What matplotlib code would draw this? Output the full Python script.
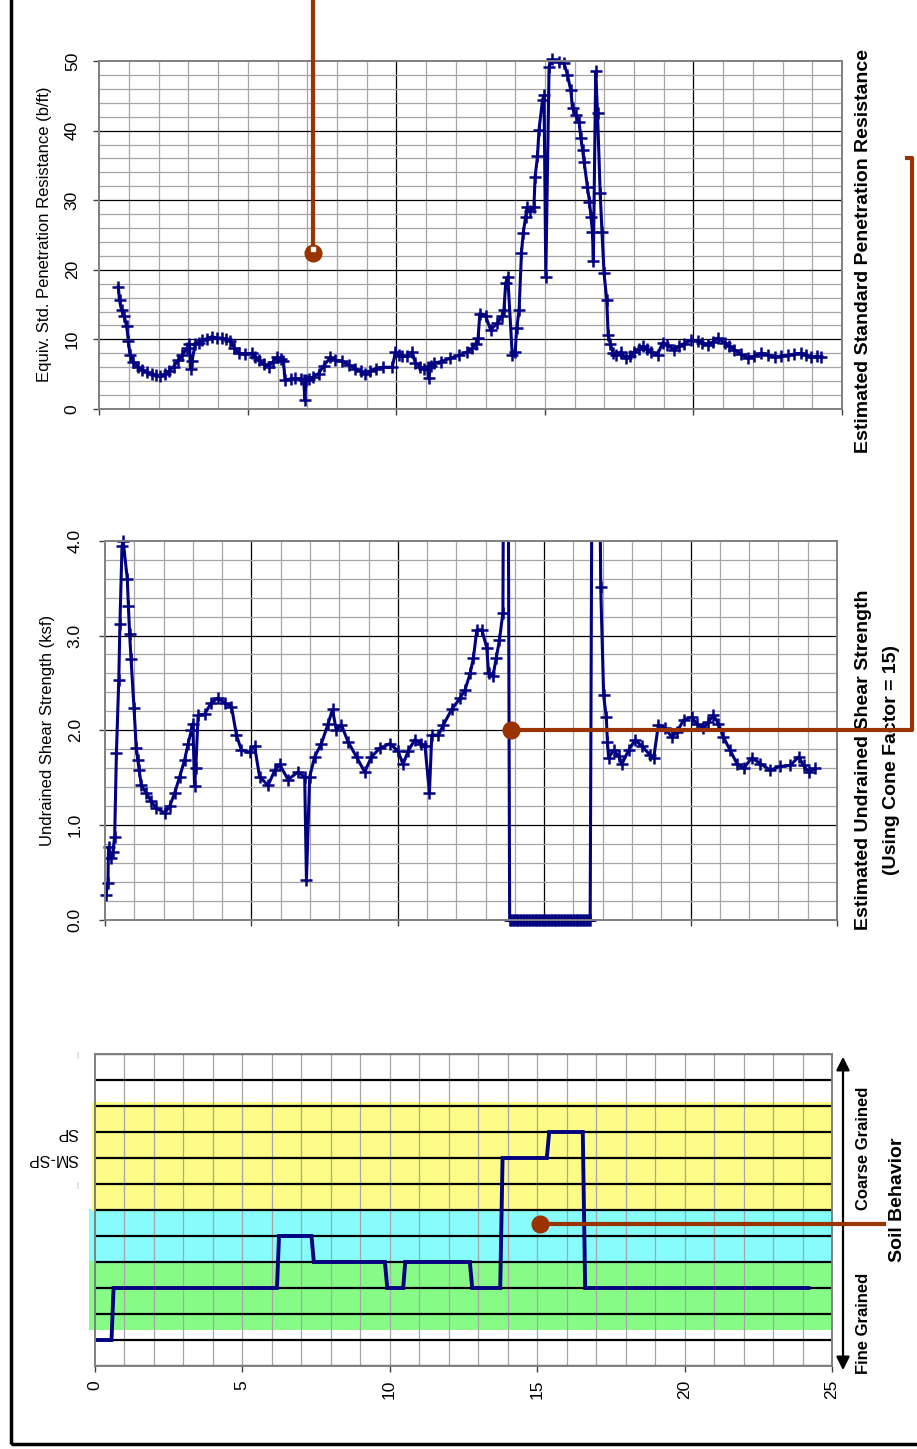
import matplotlib
matplotlib.use('Agg')
import matplotlib.pyplot as plt
from matplotlib.lines import Line2D
from matplotlib.patches import Rectangle, FancyArrowPatch

plt.rcParams['font.family'] = ['Liberation Sans', 'DejaVu Sans']

# ---- data (depth, value) ----
spt_depth = [0.64, 0.68, 0.75, 0.84, 0.92, 0.98, 1.03, 1.15, 1.30, 1.43, 1.60, 1.77, 1.90, 2.05,
             2.20, 2.33, 2.50, 2.66, 2.80, 2.95, 3.03, 3.08, 3.12, 3.23, 3.35, 3.45, 3.62, 3.79,
             3.95, 4.13, 4.28, 4.40, 4.55, 4.69, 4.90, 5.14, 5.25, 5.36, 5.55, 5.70, 5.85, 5.98,
             6.10, 6.20, 6.25, 6.45, 6.60, 6.80, 6.88, 6.92, 6.96, 7.05, 7.20, 7.38, 7.55, 7.78,
             7.95, 8.17, 8.40, 8.62, 8.80, 8.96, 9.10, 9.30, 9.55, 9.86, 9.97, 10.10, 10.20, 10.35,
             10.53, 10.64, 10.80, 10.92, 11.05, 11.09, 11.15, 11.26, 11.50, 11.82, 12.10, 12.39,
             12.55, 12.67, 12.75, 12.81, 13.00, 13.17, 13.40, 13.55, 13.62, 13.68, 13.75, 13.90,
             14.00, 14.05, 14.13, 14.21, 14.27, 14.35, 14.40, 14.50, 14.63, 14.67, 14.75, 14.80,
             14.92, 14.97, 15.03, 15.14, 15.25, 15.48, 15.64, 15.76, 15.87, 15.93, 16.04, 16.15,
             16.21, 16.27, 16.32, 16.43, 16.50, 16.55, 16.60, 16.63, 16.71, 16.77, 16.86, 16.92,
             16.99, 17.08, 17.13, 17.20, 17.30, 17.40, 17.56, 17.72, 17.85, 18.00, 18.15, 18.29,
             18.45, 18.57, 18.79, 18.96, 19.10, 19.35, 19.50, 19.69, 19.92, 20.14, 20.30, 20.48,
             20.65, 20.82, 21.05, 21.20, 21.38, 21.60, 21.83, 22.05, 22.28, 22.50, 22.73, 22.95,
             23.18, 23.40, 23.62, 23.80, 23.96, 24.15, 24.30]
spt_value = [17.6, 15.6, 14.2, 13.3, 11.9, 9.8, 7.8, 6.8, 6.0, 5.6, 5.3, 5.1, 4.9, 4.7,
             5.0, 5.4, 6.1, 7.0, 7.8, 8.7, 9.3, 5.8, 6.9, 9.3, 9.5, 9.9, 10.1, 10.4,
             10.2, 10.2, 10.0, 9.8, 8.8, 8.0, 7.9, 8.0, 7.5, 7.0, 6.5, 6.1, 6.8, 7.4,
             7.2, 6.9, 4.2, 4.3, 4.4, 4.3, 4.2, 1.3, 4.2, 4.3, 4.6, 5.1, 6.2, 7.4,
             7.0, 6.9, 6.3, 5.8, 5.4, 5.1, 5.4, 5.8, 6.0, 6.0, 8.2, 7.8, 7.6, 7.6,
             8.2, 6.6, 6.1, 5.8, 6.0, 4.4, 6.2, 6.6, 6.8, 7.3, 7.7, 8.2,
             8.7, 9.4, 10.2, 13.7, 13.4, 11.4, 12.3, 13.3, 14.2, 18.1, 19.0, 7.8,
             8.2, 11.6, 14.2, 22.4, 25.3, 27.6, 29.0, 28.5, 29.0, 33.4, 36.3, 40.1,
             44.4, 45.1, 19.0, 49.2, 50.3, 49.8, 49.7, 48.0, 45.8, 43.2, 42.2, 41.3,
             38.9, 37.2, 35.5, 31.9, 29.8, 27.6, 25.5, 21.2, 48.5, 42.5, 31.0, 25.5,
             19.5, 15.7, 10.6, 9.4, 8.0, 7.7, 8.2, 7.3, 7.6, 8.2, 8.6, 9.0,
             8.6, 8.2, 7.8, 9.5, 9.2, 8.5, 9.0, 9.4, 9.9, 9.8, 9.5, 9.2,
             9.6, 10.2, 9.5, 9.1, 8.5, 7.9, 7.3, 7.6, 8.0, 7.8, 7.5, 7.6,
             7.7, 7.9, 8.0, 7.7, 7.4, 7.6, 7.5]

su_depth = [0.03, 0.10, 0.12, 0.19, 0.27, 0.33, 0.39, 0.47, 0.51, 0.58, 0.62, 0.76, 0.80, 0.84,
            0.89, 0.99, 1.07, 1.12, 1.17, 1.24, 1.41, 1.58, 1.75, 2.04, 2.21, 2.38, 2.55, 2.72,
            2.84, 2.95, 3.00, 3.06, 3.10, 3.18, 3.40, 3.63, 3.86, 4.09, 4.32, 4.49, 4.66, 4.94,
            5.11, 5.28, 5.57, 5.80, 5.97, 6.25, 6.59, 6.82, 6.88, 6.99, 7.16, 7.39, 7.62, 7.77,
            7.90, 8.07, 8.30, 8.59, 8.87, 9.10, 9.38, 9.73, 10.01, 10.18, 10.35, 10.58, 10.80,
            10.93, 11.08, 11.16, 11.39, 11.56, 11.84, 12.13, 12.30, 12.47, 12.58, 12.70, 12.87,
            13.04, 13.10, 13.25, 13.36, 13.47, 13.59, 13.70,
            13.82, 13.87, 13.92, 13.97, 14.02, 14.07, 14.12, 14.17, 14.22, 14.27, 14.32, 14.37,
            14.42, 14.47, 14.52, 14.57, 14.62, 14.67, 14.72, 14.77, 14.82, 14.87, 14.92, 14.97,
            15.02, 15.07, 15.12, 15.17, 15.22, 15.27, 15.32, 15.37, 15.42, 15.47, 15.52, 15.57,
            15.62, 15.67, 15.72, 15.77, 15.82, 15.87, 15.92, 15.97, 16.02, 16.07, 16.12, 16.17,
            16.22, 16.27, 16.32, 16.37, 16.42, 16.47, 16.52, 16.57,
            16.72, 16.93, 17.03, 17.12, 17.16, 17.20, 17.37, 17.54, 17.65, 17.88, 18.11, 18.34,
            18.62, 18.74, 18.90, 19.13, 19.36, 19.53, 19.76, 20.04, 20.21, 20.44, 20.61, 20.78,
            20.95, 21.12, 21.35, 21.58, 21.81, 22.09, 22.38, 22.72, 23.06, 23.40, 23.69, 23.86,
            24.03, 24.26]
su_value = [0.26, 0.39, 0.77, 0.65, 0.72, 0.88, 1.76, 2.53, 3.12, 3.94, 4.00, 3.60, 3.31, 3.02,
            2.75, 2.24, 1.81, 1.69, 1.58, 1.42, 1.34, 1.25, 1.18, 1.13, 1.20, 1.34, 1.51, 1.69,
            1.86, 2.00, 2.07, 1.41, 1.60, 2.16, 2.17, 2.29, 2.34, 2.29, 2.25, 1.95, 1.79, 1.77,
            1.83, 1.51, 1.42, 1.58, 1.64, 1.48, 1.56, 1.51, 0.42, 1.51, 1.72, 1.86, 2.07, 2.22,
            2.00, 2.06, 1.88, 1.72, 1.56, 1.72, 1.81, 1.86, 1.78, 1.64, 1.78, 1.90, 1.86,
            1.83, 1.34, 1.95, 1.95, 2.06, 2.22, 2.34, 2.43, 2.60, 2.76, 3.06, 3.06,
            2.87, 2.60, 2.57, 2.76, 2.95, 3.24, 12.0,
            0.0, 0.0, 0.0, 0.0, 0.0, 0.0, 0.0, 0.0, 0.0, 0.0, 0.0, 0.0,
            0.0, 0.0, 0.0, 0.0, 0.0, 0.0, 0.0, 0.0, 0.0, 0.0, 0.0, 0.0,
            0.0, 0.0, 0.0, 0.0, 0.0, 0.0, 0.0, 0.0, 0.0, 0.0, 0.0, 0.0,
            0.0, 0.0, 0.0, 0.0, 0.0, 0.0, 0.0, 0.0, 0.0, 0.0, 0.0, 0.0,
            0.0, 0.0, 0.0, 0.0, 0.0, 0.0, 0.0, 0.0,
            12.0, 3.51, 2.37, 2.14, 1.88, 1.71, 1.79, 1.73, 1.64, 1.79, 1.90, 1.83,
            1.74, 1.71, 2.06, 2.02, 1.93, 1.98, 2.11, 2.14, 2.07, 2.02, 2.09, 2.16,
            2.07, 1.93, 1.79, 1.65, 1.60, 1.71, 1.65, 1.58, 1.62, 1.63, 1.72, 1.63,
            1.56, 1.60]

sbt_depth = [0.0, 0.57, 0.64, 6.18, 6.25, 7.35, 7.43, 9.84, 9.92, 10.46, 10.53, 12.72, 12.80,
             13.75, 13.83, 15.33, 15.41, 16.55, 16.63, 24.2]
sbt_zone = [1, 1, 3, 3, 5, 5, 4, 4, 3, 3, 4, 4, 3, 3, 8, 8, 9, 9, 3, 3]

# zone bands (lower, upper, colour)
band_lo = [1.4, 4.03, 5.97]
band_hi = [4.03, 6.05, 10.15]
band_col = ['#86fc86', '#86fcfc', '#fcfc86']
band_x0 = [-0.19, -0.19, -0.09]

NAVY = '#000080'
BROWN = '#993300'
GRID = '#a6a6a6'
W, H = 917, 1449


def fx(px):
    return px / W


def fy(py):
    return 1 - py / H


def log_curve(ax, depth, value, top):
    # line clipped to the plot area, markers inside the range drawn unclipped
    ax.plot(depth, value, color=NAVY, lw=2.2, zorder=3)
    d_in = [d for d, v in zip(depth, value) if v <= top]
    v_in = [v for v in value if v <= top]
    ax.plot(d_in, v_in, ls='none', color=NAVY, marker='+', ms=8, mew=1.8,
            zorder=3, clip_on=False)


fig = plt.figure(figsize=(9.17, 14.49), dpi=100)

# ---- top: SPT ----
ax1 = fig.add_axes([fx(99.3), fy(409), fx(842) - fx(99.3), fy(61) - fy(409)])
for i in range(1, 25):
    ax1.axvline(i, color='black' if i % 10 == 0 else GRID, lw=0.9, zorder=1)
for v in range(2, 50, 2):
    ax1.axhline(v, color='black' if v % 10 == 0 else GRID, lw=0.9, zorder=1)
log_curve(ax1, spt_depth, spt_value, 51)
ax1.set_xlim(0, 25)
ax1.set_ylim(0, 50)
ax1.set_xticks(range(0, 26, 5))
ax1.set_xticklabels([])
ax1.set_yticks(range(0, 51, 10))

# ---- middle: Su ----
ax2 = fig.add_axes([fx(105), fy(920), fx(837) - fx(105), fy(540.7) - fy(920)])
for i in range(1, 25):
    ax2.axvline(i, color='black' if i % 5 == 0 else GRID, lw=0.9, zorder=1)
for k in range(1, 20):
    ax2.axhline(k * 0.2, color='black' if k % 5 == 0 else GRID, lw=0.9, zorder=1)
log_curve(ax2, su_depth, su_value, 4.05)
ax2.set_xlim(0, 25)
ax2.set_ylim(0, 4)
ax2.set_xticks(range(0, 26, 5))
ax2.set_xticklabels([])
ax2.set_yticks([0, 1, 2, 3, 4])
ax2.set_yticklabels(['0.0', '1.0', '2.0', '3.0', '4.0'])

# ---- bottom: soil behaviour ----
ax3 = fig.add_axes([fx(94.7), fy(1366), fx(832) - fx(94.7), fy(1054) - fy(1366)])
for lo, hi, c, x0 in zip(band_lo, band_hi, band_col, band_x0):
    ax3.add_patch(Rectangle((x0, lo), 25.05 - x0, hi - lo, color=c, lw=0,
                            clip_on=False, zorder=0))
for i in range(1, 25):
    ax3.axvline(i, color=GRID, lw=0.9, zorder=1)
for z in range(0, 13):
    ax3.axhline(z, color='black', lw=1.6, zorder=2)
ax3.plot(sbt_depth, sbt_zone, color=NAVY, lw=2.8, zorder=3, solid_joinstyle='miter')
ax3.set_xlim(0, 25)
ax3.set_ylim(0, 12)
ax3.set_xticks(range(0, 26, 5))
ax3.set_yticks([])
ax3.text(-0.55, 9, 'SP', rotation=180, ha='right', va='center', fontsize=11.5)
ax3.text(-0.55, 8, 'SM-SP', rotation=180, ha='right', va='center', fontsize=11.5)
ax3.text(-0.55, 11.95, '|', ha='right', va='center', fontsize=6, color='#aaaaaa')
ax3.text(-0.55, 6.95, '|', ha='right', va='center', fontsize=6, color='#aaaaaa')

for ax in (ax1, ax2, ax3):
    for s in ax.spines.values():
        s.set_color('#808080')
        s.set_linewidth(1.4)
        s.set_zorder(4)
    ax.set_facecolor('none')
    ax.tick_params(length=4, width=1, color='#404040', labelsize=12.5)
    for lbl in ax.get_yticklabels():
        lbl.set_rotation(90)
        lbl.set_va('center')
    for lbl in ax.get_xticklabels():
        lbl.set_rotation(90)
ax1.tick_params(axis='y', pad=10)
ax2.tick_params(axis='y', pad=12)
ax3.tick_params(axis='x', pad=6)

# ---- labels ----
fig.text(fx(45), fy(234), 'Equiv. Std. Penetration Resistance (b/ft)', rotation=90,
         ha='center', va='center', fontsize=12)
fig.text(fx(48), fy(730), 'Undrained Shear Strength (ksf)', rotation=90,
         ha='center', va='center', fontsize=12)
fig.text(fx(864), fy(251), 'Estimated Standard Penetration Resistance', rotation=90,
         ha='center', va='center', fontsize=14, fontweight='bold')
fig.text(fx(864), fy(760), 'Estimated Undrained Shear Strength', rotation=90,
         ha='center', va='center', fontsize=14, fontweight='bold')
fig.text(fx(891), fy(760), '(Using Cone Factor = 15)', rotation=90,
         ha='center', va='center', fontsize=14, fontweight='bold')
fig.text(fx(863), fy(1148), 'Coarse Grained', rotation=90,
         ha='center', va='center', fontsize=12, fontweight='bold')
fig.text(fx(863), fy(1323), 'Fine Grained', rotation=90,
         ha='center', va='center', fontsize=12, fontweight='bold')
fig.text(fx(897), fy(1200), 'Soil Behavior', rotation=90,
         ha='center', va='center', fontsize=14, fontweight='bold')

fig.add_artist(FancyArrowPatch((fx(843), fy(1373)), (fx(843), fy(1054)),
                               transform=fig.transFigure, arrowstyle='<|-|>',
                               mutation_scale=20, color='black', lw=1.6))

# ---- callout leaders ----
def leader(xs, ys, dot):
    fig.add_artist(Line2D([fx(x) for x in xs], [fy(y) for y in ys], transform=fig.transFigure,
                          color=BROWN, lw=3, solid_capstyle='butt', zorder=10))
    fig.add_artist(Line2D([fx(dot[0])], [fy(dot[1])], transform=fig.transFigure, marker='o',
                          ms=12, color=BROWN, mec=BROWN, zorder=11))

leader([313, 313], [-5, 253], (313, 253))
fig.add_artist(Line2D([fx(313)], [fy(249)], transform=fig.transFigure, marker='s', ms=3.5,
                      color='white', mec='white', zorder=12))
leader([511, 912, 912, 905], [730, 730, 158, 158], (511, 730))
leader([540, 886], [1224, 1224], (540, 1224))

# outer frame
fig.add_artist(Rectangle((fx(11), fy(1444)), 2, 2, transform=fig.transFigure, fill=False,
                         ec='black', lw=2.5))

fig.savefig('out.png', dpi=100)
